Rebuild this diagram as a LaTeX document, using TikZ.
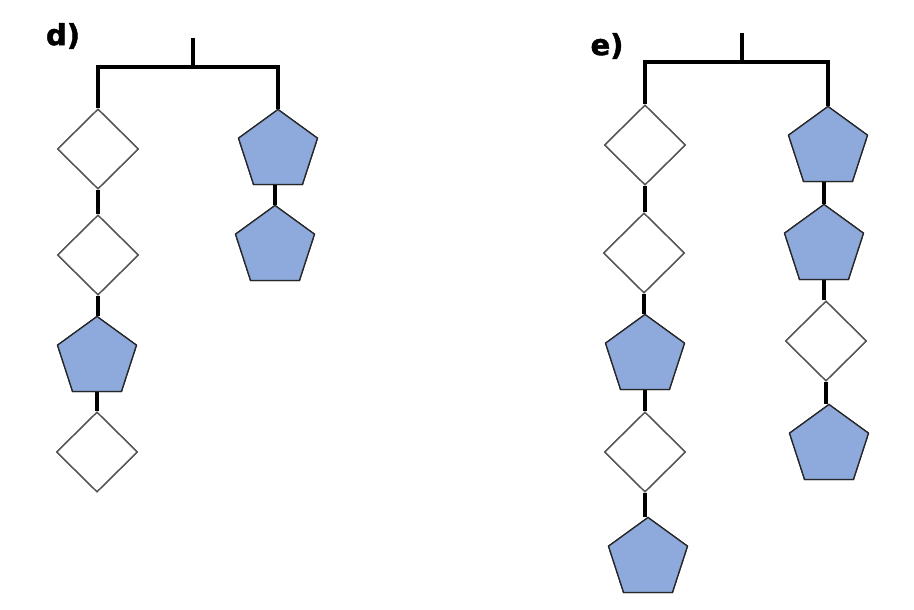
\documentclass[tikz,border=0pt]{standalone}
\usepackage{fontspec}
\newfontfamily\lblfont[FakeBold=1.5]{DejaVu Sans Bold}
\usetikzlibrary{shapes.geometric}
\definecolor{pentblue}{RGB}{142,169,219}
\definecolor{edgegray}{RGB}{85,85,85}
\tikzset{
  pent/.style={regular polygon, regular polygon sides=5, minimum size=83pt, inner sep=0pt,
               fill=pentblue, draw=black!85, line width=1.3pt},
  dia/.style={diamond, minimum width=81pt, minimum height=80pt, inner sep=0pt,
              fill=white, draw=edgegray, line width=1.4pt},
  conn/.style={line width=3.6pt, black},
  lbl/.style={font=\lblfont\fontsize{29}{34}\selectfont, inner sep=0pt}
}
\begin{document}
\begin{tikzpicture}[x=1pt,y=-1pt]
\useasboundingbox (0,0) rectangle (914,610);
% labels
\node[lbl] (ld) at (63,36) {d)};
\node[lbl] (le) at (607,46) {e)};
% ---- panel d ----
\coordinate (dtop) at (193,38);
\coordinate (dmid) at (193,67);
\coordinate (dl) at (98,67);
\coordinate (dr) at (278,67);
\node[dia]  (d1) at (98,149) {};
\node[dia]  (d2) at (98,255) {};
\node[pent] (d3) at (97,358) {};
\node[dia]  (d4) at (97,452) {};
\node[pent] (d5) at (278,151) {};
\node[pent] (d6) at (275,247) {};
\draw[conn] (dtop) -- (dmid);
\draw[conn] ([xshift=-1.8pt]dl) -- ([xshift=1.8pt]dr);
\draw[conn] (dl) -- (d1.north);
\draw[conn] (dr) -- (d5.north);
\draw[conn] (d1.south) -- (d2.north);
\draw[conn] (d2.south) -- (d2.south |- d3.north);
\draw[conn] (d3.south) -- (d3.south |- d4.north);
\draw[conn] (d6.north |- d5.south) -- (d6.north);
% redraw shapes on top
\node[dia]  at (d1) {};
\node[dia]  at (d2) {};
\node[pent] at (d3) {};
\node[dia]  at (d4) {};
\node[pent] at (d5) {};
\node[pent] at (d6) {};
% ---- panel e ----
\coordinate (etop) at (742,33);
\coordinate (emid) at (742,62);
\coordinate (el) at (645,62);
\coordinate (er) at (828,62);
\node[dia]  (e1) at (645,145) {};
\node[dia]  (e2) at (644,253) {};
\node[pent] (e3) at (645,356) {};
\node[dia]  (e4) at (645,452) {};
\node[pent] (e5) at (648,559) {};
\node[pent] (f1) at (828,148) {};
\node[pent] (f2) at (824,246) {};
\node[dia]  (f3) at (826,341) {};
\node[pent] (f4) at (829,446) {};
\draw[conn] (etop) -- (emid);
\draw[conn] ([xshift=-1.8pt]el) -- ([xshift=1.8pt]er);
\draw[conn] (el) -- (e1.north);
\draw[conn] (er) -- (f1.north);
\draw[conn] (e1.south) -- (e1.south |- e2.north);
\draw[conn] (e2.south) -- (e2.south |- e3.north);
\draw[conn] (e3.south) -- (e3.south |- e4.north);
\draw[conn] (e4.south) -- (e4.south |- e5.north);
\draw[conn] (f2.north |- f1.south) -- (f2.north);
\draw[conn] (f2.south) -- (f2.south |- f3.north);
\draw[conn] (f3.south) -- (f3.south |- f4.north);
\node[dia]  at (e1) {};
\node[dia]  at (e2) {};
\node[pent] at (e3) {};
\node[dia]  at (e4) {};
\node[pent] at (e5) {};
\node[pent] at (f1) {};
\node[pent] at (f2) {};
\node[dia]  at (f3) {};
\node[pent] at (f4) {};
\end{tikzpicture}
\end{document}
